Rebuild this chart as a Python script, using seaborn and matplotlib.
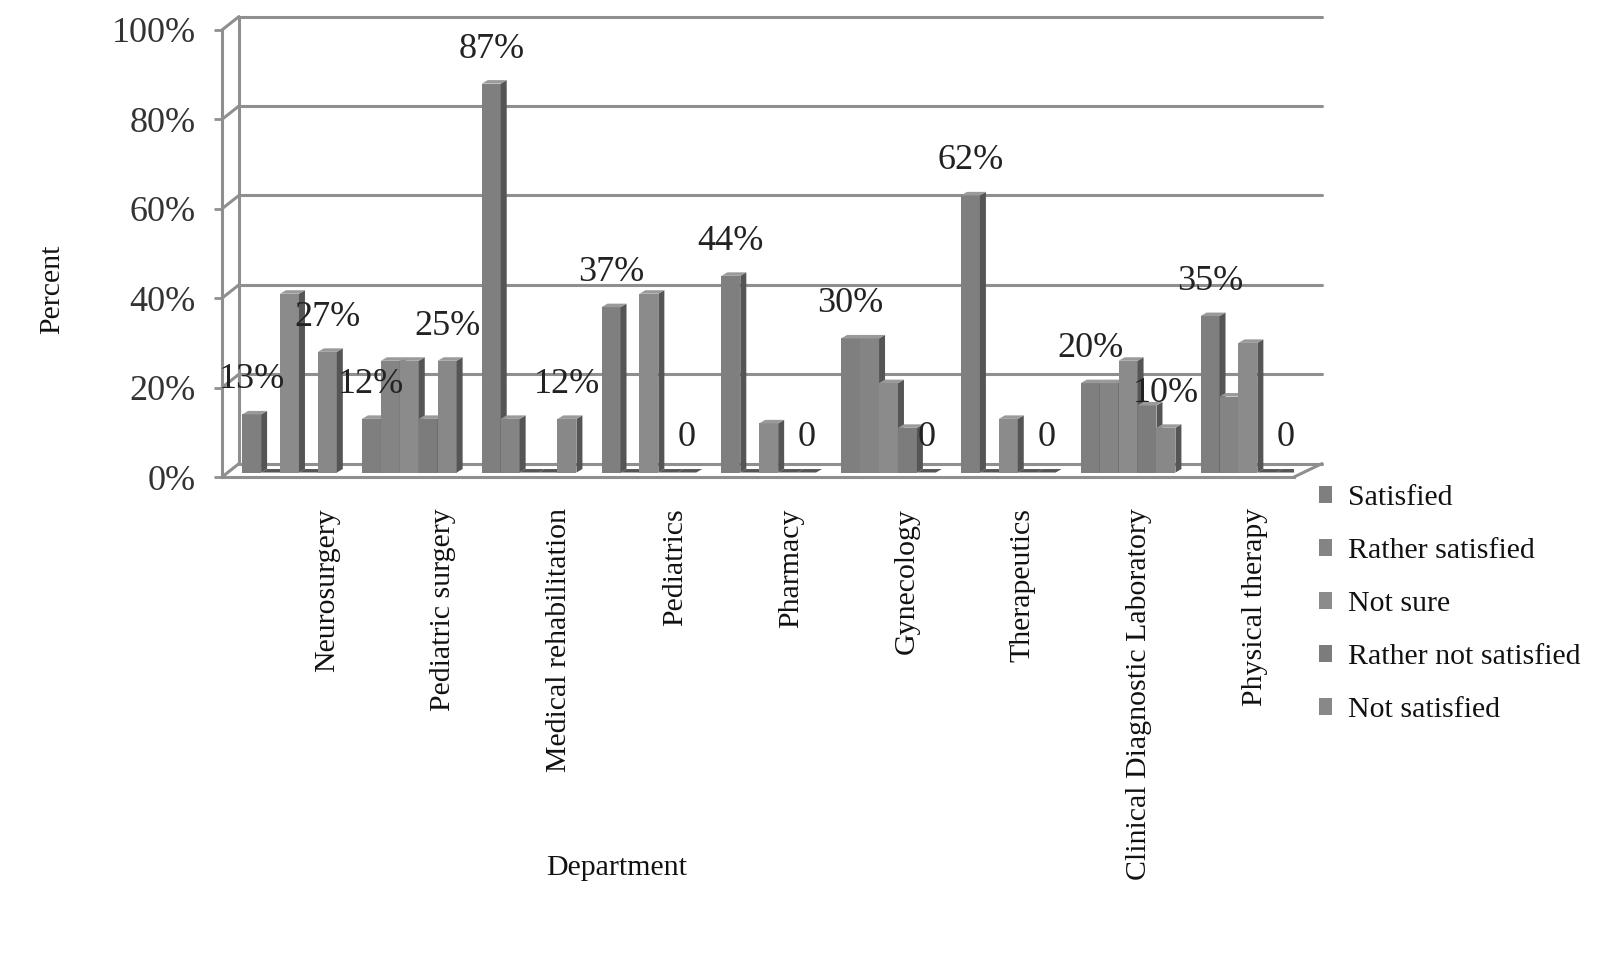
import pandas as pd
import matplotlib.pyplot as plt
from matplotlib.patches import Polygon
import seaborn as sns

departments = ['Neurosurgery', 'Pediatric surgery', 'Medical rehabilitation', 'Pediatrics', 'Pharmacy',
               'Gynecology', 'Therapeutics', 'Clinical Diagnostic Laboratory', 'Physical therapy']
satisfied = [13, 12, 87, 37, 44, 30, 62, 20, 35]
rather_satisfied = [0, 25, 12, 0, 0, 30, 0, 20, 17]
not_sure = [40, 25, 0, 40, 11, 20, 12, 25, 29]
rather_not_satisfied = [0, 12, 0, 0, 0, 10, 0, 15, 0]
not_satisfied = [27, 25, 12, 0, 0, 0, 0, 10, 0]
y_ticks = [0, 20, 40, 60, 80, 100]
y_tick_labels = ['0%', '20%', '40%', '60%', '80%', '100%']

series = {'Satisfied': satisfied, 'Rather satisfied': rather_satisfied, 'Not sure': not_sure,
          'Rather not satisfied': rather_not_satisfied, 'Not satisfied': not_satisfied}
bar_colors = ['#7f7f7f', '#848484', '#8b8b8b', '#7c7c7c', '#888888']

rows = []
for name, values in series.items():
    for dep, val in zip(departments, values):
        rows.append({'Department': dep, 'Rating': name, 'Percent': val})
df = pd.DataFrame(rows)

sns.set_theme(style='white')
plt.rcParams['font.family'] = ['Liberation Serif', 'DejaVu Serif']

W, H = 1600, 964
fig = plt.figure(figsize=(W / 100, H / 100), dpi=100)
# front plane of the fake 3D box, in pixels
left, right, top, bottom = 222, 1294, 25.5, 477
ax = fig.add_axes([left / W, 1 - bottom / H, (right - left) / W, (bottom - top) / H])

sns.barplot(data=df, x='Department', y='Percent', hue='Rating', order=departments, palette=bar_colors,
            width=0.79, gap=0, saturation=1, linewidth=0, ax=ax)

px_x = 1 / 119.8
px_y = 1 / 4.47
ax.set_xlim((left - 289.5) * px_x, (right - 289.5) * px_x)
ax.set_ylim(-1, 100)

line_color = '#8f8f8f'
line_kw = dict(color=line_color, lw=2.2, clip_on=False, zorder=1, solid_capstyle='round')
x0 = ax.get_xlim()[0]
x_back = x0 + 17 * px_x
x_end = x0 + 1100 * px_x

# back wall, grid lines and the slanted joins to the front axis
for v in y_ticks:
    ax.plot([x_back, x_end], [v + 2, v + 2], **line_kw)
    ax.plot([x0, x_back], [v - 1, v + 2], **line_kw)
ax.plot([x_back, x_back], [2, 102], **line_kw)
ax.plot([ax.get_xlim()[1], x_end], [-1, 2], **line_kw)

# depth on each bar, left to right so the next bar hides the side of the one before
bars = sorted([b for c in ax.containers for b in c], key=lambda b: b.get_x())
dx, dy = 6 * px_x, 3.5 * px_y
for i, b in enumerate(bars):
    x, w, h = b.get_x(), b.get_width(), b.get_height()
    z = 3 + i * 0.01
    b.set_zorder(z)
    b.set_linewidth(0)
    ax.add_patch(Polygon([(x + w, 0), (x + w + dx, dy), (x + w + dx, h + dy), (x + w, h)],
                         closed=True, facecolor='#555555', edgecolor='none', zorder=z))
    ax.add_patch(Polygon([(x, h), (x + dx, h + dy), (x + w + dx, h + dy), (x + w, h)],
                         closed=True, facecolor='#555555' if h == 0 else '#9a9a9a',
                         edgecolor='none', zorder=z))

# value labels sit on the first and last series only
for c, values in [(ax.containers[0], satisfied), (ax.containers[4], not_satisfied)]:
    ax.bar_label(c, labels=[f'{v}%' if v else '0' for v in values], padding=13, fontsize=26,
                 color='#222222', zorder=10)

# category labels drift away from the groups, they do not line up with the bars
tick_x = [0.312 + i * 0.968 for i in range(len(departments))]
ax.set_xticks(tick_x)
ax.set_xticklabels(departments, rotation=90, fontsize=21.5, color='#111111', va='top', ha='center')
ax.tick_params(axis='x', length=0, pad=22.5)
ax.set_yticks([v - 1 for v in y_ticks])
ax.set_yticklabels(y_tick_labels, fontsize=26, color='#333333')
ax.tick_params(axis='y', length=6, width=2, color=line_color, pad=13, left=True)

sns.despine(ax=ax, top=True, right=True)
ax.spines['left'].set_bounds(-1, 99)
ax.spines['left'].set_color(line_color)
ax.spines['left'].set_linewidth(2.2)
ax.spines['bottom'].set_color(line_color)
ax.spines['bottom'].set_linewidth(2.2)
ax.patch.set_alpha(0)

ax.set_xlabel('')
ax.set_ylabel('')
fig.text(617 / W, 1 - 868 / H, 'Department', fontsize=21.5, ha='center', va='center', color='#111111')
fig.text(52 / W, 1 - 289 / H, 'Percent', fontsize=21.5, rotation=90, ha='center', va='center', color='#111111')

handles, labels = ax.get_legend_handles_labels()
ax.legend(handles, labels, loc='upper left', bbox_to_anchor=(1319 / W, 1 - 485 / H),
          bbox_transform=fig.transFigure, frameon=False, fontsize=21.5, labelspacing=0.906,
          handlelength=0.42, handleheight=0.5, handletextpad=0.56, borderpad=0, borderaxespad=0,
          labelcolor='#111111')

fig.savefig('out.png', dpi=100, facecolor='white')
